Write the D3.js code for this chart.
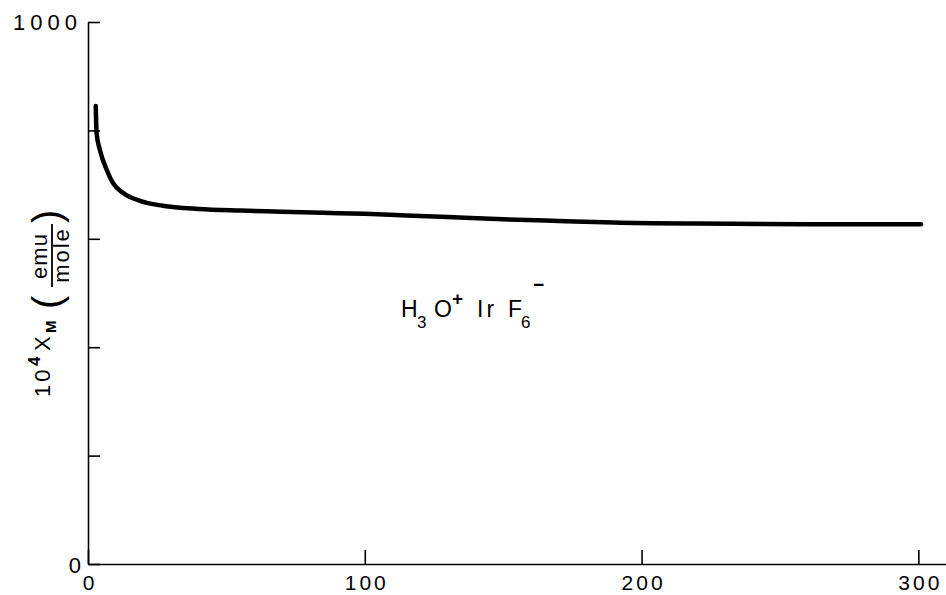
<!DOCTYPE html>
<html lang="en">
<head>
<meta charset="UTF-8">
<title>H3O+ IrF6- susceptibility</title>
<script src="https://d3js.org/d3.v7.min.js"></script>
<style>
    body { margin: 0; background: #fff; }
    svg { display: block; }
    .axis path, .axis line { stroke: #000; stroke-width: 1.6px; }
    .axis text { font-family: "Liberation Sans", Arial, sans-serif; font-size: 21px; letter-spacing: 3px; fill: #000; }
    .lbl { font-family: "Liberation Sans", Arial, sans-serif; fill: #000; }
    .curve { fill: none; stroke: #000; stroke-width: 4.5px; stroke-linecap: round; stroke-linejoin: round; }
</style>
</head>
<body>
<script>
    // temperature (K) and 10^4 chi_M (emu/mole)
    const temps = [2.8, 3.1, 4.3, 6.8, 9.0, 12.6, 18.8, 27, 40, 55, 70, 85, 100, 115, 130, 150, 170, 190, 220, 260, 301];
    const chi   = [845, 795, 764, 727, 703, 685, 670, 661, 655, 652, 650, 648, 646, 643, 640, 636, 633, 630, 628, 627, 627];
    const xTicks = [0, 100, 200, 300];
    const yTicks = [0, 200, 400, 600, 800, 1000];
    const yLabels = [0, 1000];

    const width = 946, height = 595;
    const svg = d3.select("body").append("svg")
        .attr("width", width).attr("height", height);

    const xScale = d3.scaleLinear().domain([0, 310]).range([88, 946]);
    const yScale = d3.scaleLinear().domain([0, 1000]).range([564, 22]);

    // x axis, ticks pointing up
    svg.append("g").attr("class", "axis")
        .attr("transform", `translate(0,${yScale(0)})`)
        .call(d3.axisBottom(xScale).tickValues(xTicks).tickSize(-14).tickSizeOuter(0).tickPadding(11))
        .selectAll("text").attr("dx", "1.5px");

    // y axis, ticks pointing right
    const yAx = svg.append("g").attr("class", "axis")
        .attr("transform", `translate(${xScale(0)},0)`)
        .call(d3.axisLeft(yScale).tickValues(yTicks).tickSize(-12).tickSizeOuter(0).tickPadding(10)
            .tickFormat(d => yLabels.includes(d) ? d : ""));
    yAx.selectAll("text").style("letter-spacing", "5px").style("font-size", "22px").attr("dx", "4px");
    yAx.selectAll(".tick").filter(d => d === 0).select("text").attr("dx", "8px").attr("dy", "0.4em");

    // curve
    const line = d3.line().curve(d3.curveMonotoneX)
        .x((d, i) => xScale(temps[i]))
        .y(d => yScale(d));
    svg.append("path").attr("class", "curve").attr("d", line(chi));

    // y label: 10^4 X_M (emu/mole), rotated
    const yl = svg.append("g").attr("class", "lbl").attr("transform", "translate(50,397) rotate(-90)");
    yl.append("text").attr("x", 0).attr("y", 0).style("font-size", "22px").style("letter-spacing", "3px").text("10");
    yl.append("text").attr("x", 31).attr("y", -10).style("font-size", "17px").style("font-weight", "bold").text("4");
    yl.append("text").attr("x", 46).attr("y", 0).style("font-size", "22px").text("X");
    yl.append("text").attr("x", 64).attr("y", 6).style("font-size", "15px").style("font-weight", "bold").text("M");
    yl.append("text").attr("x", 88).attr("y", 11).style("font-size", "40px").text("(");
    yl.append("text").attr("x", 141).attr("y", -3).attr("text-anchor", "middle").style("font-size", "22px").style("letter-spacing", "1px").text("emu");
    yl.append("line").attr("x1", 110).attr("x2", 173).attr("y1", 2).attr("y2", 2).attr("stroke", "#000").attr("stroke-width", 1.8);
    yl.append("text").attr("x", 142).attr("y", 19).attr("text-anchor", "middle").style("font-size", "22px").style("letter-spacing", "2px").text("mole");
    yl.append("text").attr("x", 174).attr("y", 11).style("font-size", "40px").text(")");

    // compound label H3O+ IrF6-
    const cl = svg.append("g").attr("class", "lbl").attr("transform", "translate(401,317)");
    cl.append("text").attr("x", 0).attr("y", 0).style("font-size", "23px").text("H");
    cl.append("text").attr("x", 16).attr("y", 11).style("font-size", "17px").text("3");
    cl.append("text").attr("x", 33).attr("y", 0).style("font-size", "23px").text("O");
    cl.append("text").attr("x", 51).attr("y", -12).style("font-size", "19px").style("font-weight", "bold").text("+");
    cl.append("text").attr("x", 76).attr("y", 0).style("font-size", "23px").style("letter-spacing", "3px").text("Ir");
    cl.append("text").attr("x", 107).attr("y", 0).style("font-size", "23px").text("F");
    cl.append("text").attr("x", 120).attr("y", 11).style("font-size", "17px").text("6");
    cl.append("text").attr("x", 132).attr("y", -26).style("font-size", "19px").style("font-weight", "bold").text("−");
</script>
</body>
</html>
